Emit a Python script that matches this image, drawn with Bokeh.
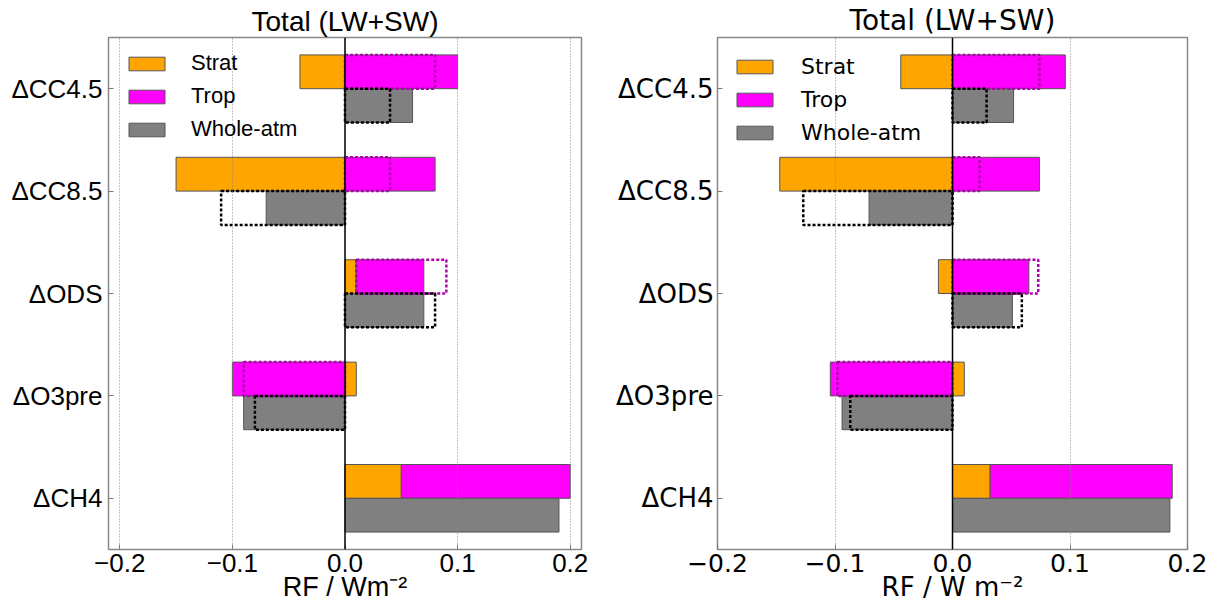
import numpy as np
from bokeh.plotting import figure
from bokeh.layouts import row
from bokeh.models import Range1d, FixedTicker, Span, CustomJSTickFormatter
from bokeh.embed import file_html
from bokeh.resources import INLINE

nan = float("nan")

categories = ["ΔCH4", "ΔO3pre", "ΔODS", "ΔCC8.5", "ΔCC4.5"]
xticks = [-0.2, -0.1, 0.0, 0.1, 0.2]
title_text = "Total (LW+SW)"

# left panel values (RF, W m-2)
strat_a = [0.05, 0.01, 0.01, -0.15, -0.04]
trop_a = [0.15, -0.10, 0.06, 0.08, 0.10]
whole_a = [0.19, -0.09, 0.07, -0.07, 0.06]
trop_alt_a = [nan, -0.09, 0.08, 0.04, 0.08]
whole_alt_a = [nan, -0.08, 0.08, -0.11, 0.04]

# right panel values
strat_b = [0.032, 0.010, -0.012, -0.147, -0.044]
trop_b = [0.155, -0.104, 0.065, 0.074, 0.096]
whole_b = [0.185, -0.094, 0.051, -0.071, 0.052]
trop_alt_b = [nan, -0.098, 0.073, 0.023, 0.074]
whole_alt_b = [nan, -0.087, 0.059, -0.127, 0.029]

ORANGE = "#FFA500"
MAGENTA = "#FF00FF"
GREY = "#808080"
EDGE = "#555555"
DOT_MAG = "#B000B0"
BAR_H = 0.33


def panel(strat, trop, whole, trop_alt, whole_alt, font, tick_fs, ylab_fs, title_fs,
          axlab_fs, leg_fs, xr, width, bl, br, bt, bb, leg_loc, leg_stand, xlabel, ystand):
    y = np.arange(len(categories), dtype=float)
    strat = np.array(strat); trop = np.array(trop); whole = np.array(whole)
    trop_alt = np.array(trop_alt); whole_alt = np.array(whole_alt)
    base = np.where((strat > 0) & (trop > 0), strat, 0.0)
    base_alt = np.where((strat > 0) & (trop_alt > 0), strat, 0.0)
    up = y + BAR_H / 2
    dn = y - BAR_H / 2

    p = figure(width=width, height=607, x_range=Range1d(*xr), y_range=Range1d(-0.5, 4.5),
               output_backend="svg", toolbar_location=None,
               min_border_left=bl, min_border_right=br, min_border_top=bt, min_border_bottom=bb)
    p.title.text = title_text
    p.title.align = "center"
    p.title.text_font = font
    p.title.text_font_size = title_fs
    p.title.text_font_style = "normal"
    p.title.text_color = "black"
    p.title.standoff = 2

    p.hbar(y=up, left=0, right=strat, height=BAR_H, fill_color=ORANGE,
           line_color=EDGE, line_width=1, legend_label="Strat")
    p.hbar(y=up, left=base, right=base + trop, height=BAR_H, fill_color=MAGENTA,
           line_color=EDGE, line_width=1, legend_label="Trop")
    p.hbar(y=dn, left=0, right=whole, height=BAR_H, fill_color=GREY,
           line_color=EDGE, line_width=1, legend_label="Whole-atm")

    m = ~np.isnan(trop_alt)
    p.hbar(y=up[m], left=base_alt[m], right=(base_alt + trop_alt)[m], height=BAR_H,
           fill_alpha=0, line_color=DOT_MAG, line_width=2.5, line_dash="3 2")
    m2 = ~np.isnan(whole_alt)
    p.hbar(y=dn[m2], left=0, right=whole_alt[m2], height=BAR_H,
           fill_alpha=0, line_color="black", line_width=2.5, line_dash="3 2")

    p.add_layout(Span(location=0, dimension="height", line_color="black", line_width=1.5))

    p.xaxis.ticker = FixedTicker(ticks=xticks)
    p.xaxis.formatter = CustomJSTickFormatter(
        code="return (tick < -1e-9 ? '\u2212' : '') + Math.abs(tick).toFixed(1);")
    p.yaxis.ticker = FixedTicker(ticks=list(range(len(categories))))
    p.yaxis.major_label_overrides = {i: c for i, c in enumerate(categories)}
    for ax in (p.xaxis[0], p.yaxis[0]):
        ax.major_label_text_font = font
        ax.major_label_text_color = "black"
        ax.axis_line_color = None
        ax.major_tick_in = 5
        ax.major_tick_out = 0
        ax.major_tick_line_color = "#777777"
        ax.minor_tick_line_color = None
    p.xaxis.major_label_text_font_size = tick_fs
    p.yaxis.major_label_text_font_size = ylab_fs
    p.yaxis.major_label_standoff = ystand
    p.xaxis.major_label_standoff = 4
    p.xaxis.axis_label = xlabel
    p.xaxis.axis_label_text_font = font
    p.xaxis.axis_label_text_font_size = axlab_fs
    p.xaxis.axis_label_text_font_style = "normal"
    p.xaxis.axis_label_text_color = "black"
    p.xaxis.axis_label_standoff = -3

    p.xgrid.ticker = FixedTicker(ticks=xticks)
    p.xgrid.grid_line_color = "#888888"
    p.xgrid.grid_line_dash = "1 2"
    p.xgrid.grid_line_width = 1
    p.xgrid.level = "annotation"
    p.ygrid.grid_line_color = None

    p.outline_line_color = "#888888"
    p.outline_line_width = 1.5
    p.background_fill_color = "white"

    lg = p.legend[0]
    lg.location = leg_loc
    lg.margin = 0
    lg.padding = 10
    lg.glyph_width = 45
    lg.glyph_height = 17
    lg.label_height = 26
    lg.spacing = 7
    lg.label_standoff = leg_stand
    lg.label_text_font = font
    lg.label_text_font_size = leg_fs
    lg.label_text_color = "black"
    lg.border_line_color = None
    lg.background_fill_alpha = 0.0
    return p


p1 = panel(strat_a, trop_a, whole_a, trop_alt_a, whole_alt_a, "Liberation Sans",
           "26px", "26px", "28px", "27px", "22px", (-0.21, 0.21), 608, 108, 27, 34, 58,
           (16, 407), 22, "RF / Wm⁻²", 6)
p2 = panel(strat_b, trop_b, whole_b, trop_alt_b, whole_alt_b, "DejaVu Sans",
           "25px", "26px", "28px", "26px", "22px", (-0.2, 0.2), 609, 109, 30, 35, 57,
           (15, 404), 24, "RF / W m⁻²", 4)

layout = row(p1, p2)
open("out.html", "w").write(file_html(layout, INLINE))
